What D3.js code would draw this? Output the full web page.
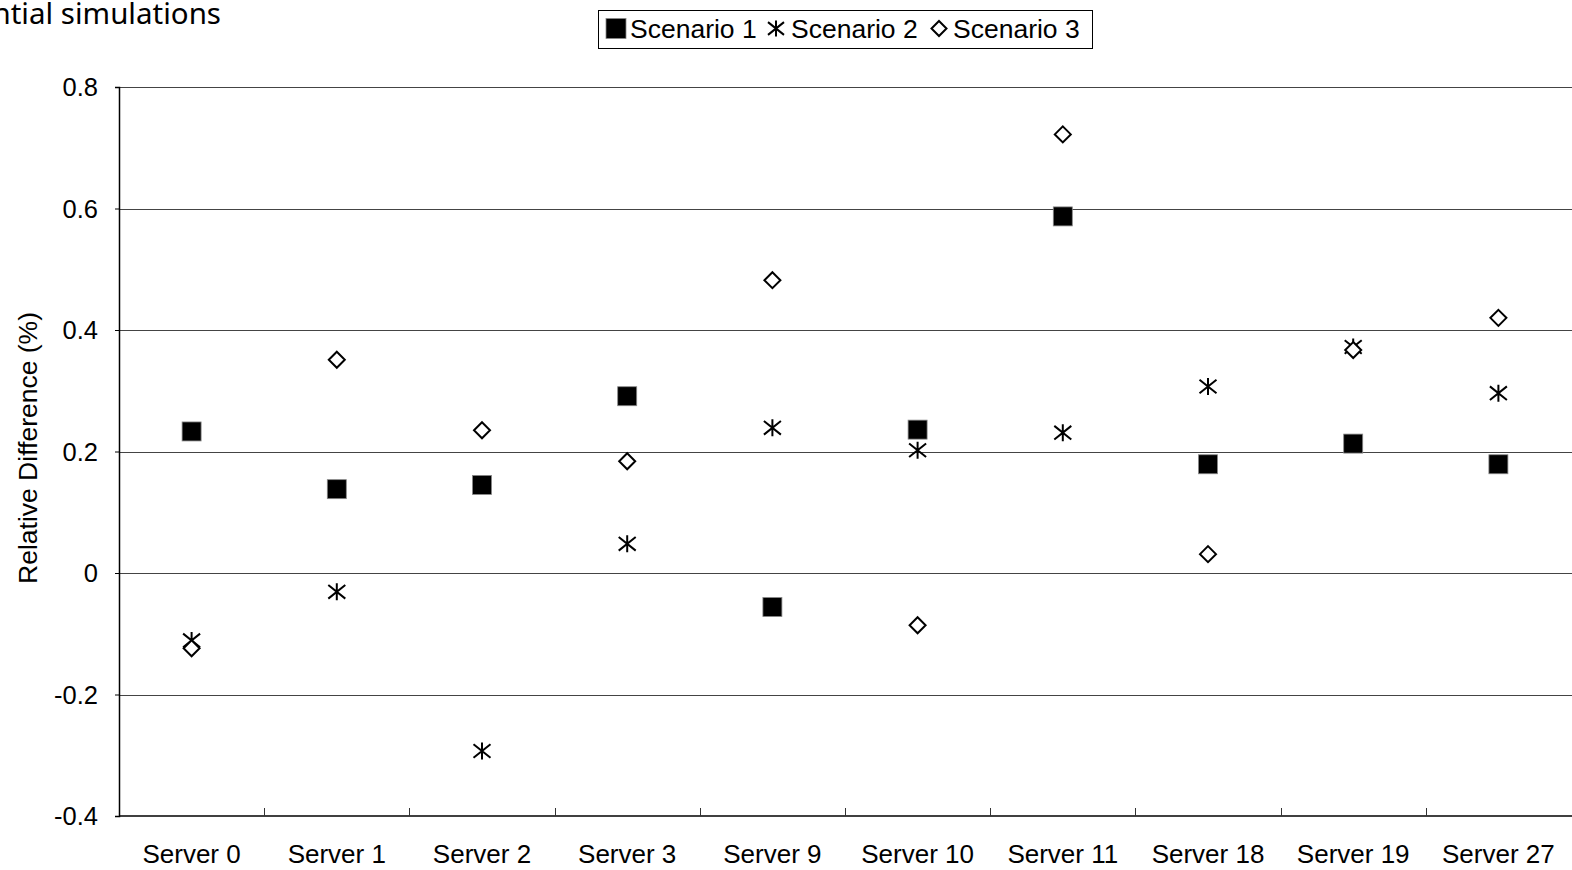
<!DOCTYPE html>
<html>
<head>
<meta charset="utf-8">
<script src="https://cdn.jsdelivr.net/npm/d3@7"></script>
<style>
  html, body { margin: 0; padding: 0; background: #fff; overflow: hidden; }
  svg { display: block; }
</style>
</head>
<body>
<script>
// Relative difference per server for three scenarios
const servers = ["Server 0", "Server 1", "Server 2", "Server 3", "Server 9",
                 "Server 10", "Server 11", "Server 18", "Server 19", "Server 27"];
const scenario1 = [0.233, 0.138, 0.145, 0.291, -0.056, 0.236, 0.587, 0.179, 0.213, 0.179];
const scenario2 = [-0.111, -0.031, -0.293, 0.048, 0.239, 0.202, 0.231, 0.307, 0.372, 0.296];
const scenario3 = [-0.124, 0.351, 0.235, 0.184, 0.482, -0.086, 0.722, 0.031, 0.367, 0.420];
const seriesNames = ["Scenario 1", "Scenario 2", "Scenario 3"];
const yTicks = [-0.4, -0.2, 0, 0.2, 0.4, 0.6, 0.8];
const yTickLabels = ["-0.4", "-0.2", "0", "0.2", "0.4", "0.6", "0.8"];

const W = 1572, H = 870;
const margin = { left: 119, right: 1, top: 87, bottom: 54 };

const svg = d3.select("body").append("svg").attr("width", W).attr("height", H);

const x = d3.scaleBand().domain(servers)
  .range([margin.left, W - margin.right]).paddingInner(0).paddingOuter(0);
const y = d3.scaleLinear().domain([-0.4, 0.8]).range([H - margin.bottom, margin.top]);

const font = "'Liberation Sans', Arial, sans-serif";
const fs = 26;

// Horizontal gridlines
svg.append("g").selectAll("line").data(yTicks.filter(d => d > -0.4)).join("line")
  .attr("x1", margin.left).attr("x2", W)
  .attr("y1", d => Math.round(y(d)) + 0.5).attr("y2", d => Math.round(y(d)) + 0.5)
  .attr("stroke", "#444").attr("stroke-width", 1.2);

// Y axis
const yAxis = svg.append("g").attr("transform", `translate(${margin.left},0)`)
  .call(d3.axisLeft(y).tickValues(yTicks).tickSize(4).tickPadding(17)
    .tickFormat((d, i) => yTickLabels[i]));
yAxis.select(".domain").attr("stroke", "#000").attr("stroke-width", 1.5);
yAxis.selectAll(".tick line").attr("stroke", "#000");
yAxis.selectAll("text").attr("font-family", font).attr("font-size", 25.5).attr("fill", "#000")
  .attr("dy", "0.35em");

// X axis: ticks at category boundaries, pointing up
const xAxisY = y(-0.4);
svg.append("line").attr("x1", margin.left).attr("x2", W)
  .attr("y1", xAxisY).attr("y2", xAxisY).attr("stroke", "#000").attr("stroke-width", 1.5);
svg.append("g").selectAll("line").data(servers.slice(1)).join("line")
  .attr("x1", d => Math.round(x(d)) + 0.5).attr("x2", d => Math.round(x(d)) + 0.5)
  .attr("y1", xAxisY).attr("y2", xAxisY - 8)
  .attr("stroke", "#333").attr("stroke-width", 1);
svg.append("g").selectAll("text").data(servers).join("text")
  .attr("x", d => x(d) + x.bandwidth() / 2).attr("y", xAxisY + 47)
  .attr("text-anchor", "middle").attr("font-family", font).attr("font-size", fs)
  .text(d => d);

// Y axis title
svg.append("text")
  .attr("transform", `translate(37,448) rotate(-90)`)
  .attr("text-anchor", "middle").attr("font-family", font).attr("font-size", 26.5)
  .text("Relative Difference (%)");

// Chart title (partially outside the page on the left)
svg.append("text").attr("x", 221).attr("y", 24).attr("text-anchor", "end")
  .attr("font-family", "'Noto Sans', 'Open Sans', sans-serif").attr("font-size", 29.5)
  .text("Relative difference of sequential simulations");

// Marker drawers
function drawSquare(g, cx, cy, s) {
  g.append("rect").attr("x", cx - s / 2).attr("y", cy - s / 2)
    .attr("width", s).attr("height", s)
    .attr("fill", "#000").attr("stroke", "#888").attr("stroke-width", 0.8);
}
function drawStar(g, cx, cy, r) {
  const p = d3.path();
  p.moveTo(cx, cy - r); p.lineTo(cx, cy + r);
  p.moveTo(cx - r, cy - r * 0.8); p.lineTo(cx + r, cy + r * 0.8);
  p.moveTo(cx + r, cy - r * 0.8); p.lineTo(cx - r, cy + r * 0.8);
  g.append("path").attr("d", p.toString()).attr("fill", "none")
    .attr("stroke", "#000").attr("stroke-width", 2);
}
function drawDiamond(g, cx, cy, r) {
  const p = d3.path();
  p.moveTo(cx, cy - r); p.lineTo(cx + r, cy); p.lineTo(cx, cy + r); p.lineTo(cx - r, cy); p.closePath();
  g.append("path").attr("d", p.toString()).attr("fill", "#fff")
    .attr("stroke", "#000").attr("stroke-width", 2).attr("stroke-linejoin", "miter");
}

const cx = d => x(d) + x.bandwidth() / 2;
const marks = svg.append("g");
servers.forEach((s, i) => drawSquare(marks, cx(s), y(scenario1[i]), 19));
servers.forEach((s, i) => drawStar(marks, cx(s), y(scenario2[i]), 8.5));
servers.forEach((s, i) => drawDiamond(marks, cx(s), y(scenario3[i]), 8));

// Legend
const lg = svg.append("g");
lg.append("rect").attr("x", 598.5).attr("y", 10.5).attr("width", 494).attr("height", 38)
  .attr("fill", "#fff").attr("stroke", "#000").attr("stroke-width", 1);
const legendY = 28.5;
const drawers = [
  (g, xx) => drawSquare(g, xx, legendY, 20),
  (g, xx) => drawStar(g, xx, legendY, 8),
  (g, xx) => drawDiamond(g, xx, legendY, 7.5)
];
const symX = [616, 776, 939];
const textX = [630, 791, 953];
seriesNames.forEach((name, i) => {
  drawers[i](lg, symX[i]);
  lg.append("text").attr("x", textX[i]).attr("y", legendY + 9.5)
    .attr("font-family", font).attr("font-size", 26.5).text(name);
});
</script>
</body>
</html>
